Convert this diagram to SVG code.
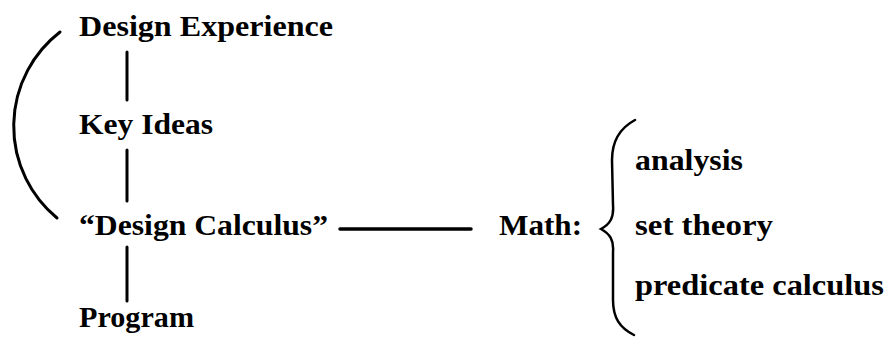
<svg xmlns="http://www.w3.org/2000/svg" width="886" height="339" viewBox="0 0 886 339">
<style>
.t{font-family:"Liberation Serif","Times New Roman",serif;font-weight:bold;font-size:30px;fill:#000}
.c{fill:none;stroke:#000;stroke-linecap:round}
</style>
<rect width="886" height="339" fill="#fff"/>
<g id="connectors">
<line class="c" stroke-width="3" x1="127" y1="52" x2="127" y2="100"/>
<line class="c" stroke-width="3" x1="127" y1="150" x2="127" y2="201"/>
<line class="c" stroke-width="3" x1="127" y1="247" x2="127" y2="301"/>
<path class="c" stroke-width="3" d="M60,32 A119,119 0 0 0 57,218"/>
<line class="c" stroke-width="3.5" x1="340" y1="229" x2="471" y2="229"/>
<path class="c" stroke-width="2.5" d="M635,120 C620,128 612,140 612,160 L613,205 C614,218 610,224 601,229 C610,234 614,240 613,252 L613,300 C613,318 620,328 634,335"/>
</g>
<g id="design-experience"><text class="t" x="79" y="36" textLength="254" lengthAdjust="spacingAndGlyphs">Design Experience</text></g>
<g id="key-ideas"><text class="t" x="79" y="134" textLength="134" lengthAdjust="spacingAndGlyphs">Key Ideas</text></g>
<g id="design-calculus"><text class="t" x="79" y="235" textLength="249" lengthAdjust="spacingAndGlyphs">“Design Calculus”</text></g>
<g id="program"><text class="t" x="79" y="327" textLength="115" lengthAdjust="spacingAndGlyphs">Program</text></g>
<g id="math"><text class="t" x="499" y="235" textLength="83" lengthAdjust="spacingAndGlyphs">Math:</text></g>
<g id="analysis"><text class="t" x="635" y="170" textLength="108" lengthAdjust="spacingAndGlyphs">analysis</text></g>
<g id="set-theory"><text class="t" x="635" y="235" textLength="138" lengthAdjust="spacingAndGlyphs">set theory</text></g>
<g id="predicate-calculus"><text class="t" x="635" y="295" textLength="249" lengthAdjust="spacingAndGlyphs">predicate calculus</text></g>
</svg>
